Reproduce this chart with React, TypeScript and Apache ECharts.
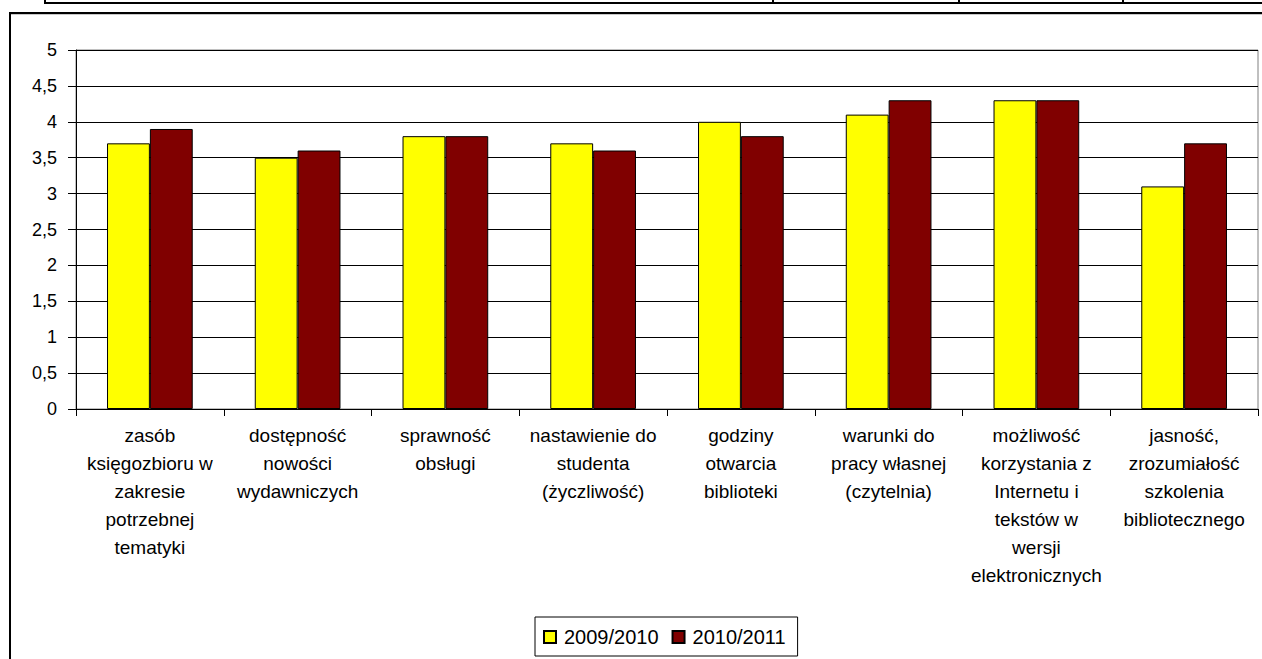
import React, { useEffect, useRef } from "react";
import * as echarts from "echarts";

const categories: string[] = [
  "zasób\nksięgozbioru w\nzakresie\npotrzebnej\ntematyki",
  "dostępność\nnowości\nwydawniczych",
  "sprawność\nobsługi",
  "nastawienie do\nstudenta\n(życzliwość)",
  "godziny\notwarcia\nbiblioteki",
  "warunki do\npracy własnej\n(czytelnia)",
  "możliwość\nkorzystania z\nInternetu i\ntekstów w\nwersji\nelektronicznych",
  "jasność,\nzrozumiałość\nszkolenia\nbibliotecznego",
];

const seriesNames: string[] = ["2009/2010", "2010/2011"];
const values2009: number[] = [3.7, 3.5, 3.8, 3.7, 4.0, 4.1, 4.3, 3.1];
const values2010: number[] = [3.9, 3.6, 3.8, 3.6, 3.8, 4.3, 4.3, 3.7];

const FONT = "'Liberation Sans', Arial, sans-serif";

export default function App() {
  const ref = useRef<HTMLDivElement>(null);

  useEffect(() => {
    if (!ref.current) return;
    const chart = echarts.init(ref.current, undefined, { renderer: "svg" });
    const lineStyle = { stroke: "#000", lineWidth: 2 };
    chart.setOption({
      animation: false,
      backgroundColor: "#fff",
      textStyle: { fontFamily: FONT, color: "#000" },
      grid: {
        left: 76,
        right: 4,
        top: 50,
        bottom: 250,
        show: true,
        borderColor: "#808080",
        borderWidth: 1,
        containLabel: false,
      },
      legend: {
        data: seriesNames,
        left: 535,
        top: 617,
        orient: "horizontal",
        padding: [10, 12, 9, 8],
        itemGap: 13,
        itemWidth: 12,
        itemHeight: 12,
        icon: "rect",
        borderColor: "#000",
        borderWidth: 1,
        textStyle: { fontFamily: FONT, fontSize: 20, color: "#000", padding: [0, 0, 0, 3] },
      },
      xAxis: {
        type: "category",
        data: categories,
        axisLine: { show: true, lineStyle: { color: "#000", width: 1 } },
        axisTick: { show: true, length: 7, alignWithLabel: false, lineStyle: { color: "#000" } },
        axisLabel: {
          interval: 0,
          margin: 12,
          fontFamily: FONT,
          fontSize: 19,
          lineHeight: 28,
          color: "#000",
          align: "center",
        },
        splitLine: { show: false },
      },
      yAxis: {
        type: "value",
        min: 0,
        max: 5,
        interval: 0.5,
        axisLine: { show: true, lineStyle: { color: "#000", width: 1 } },
        axisTick: { show: true, length: 8, lineStyle: { color: "#000" } },
        axisLabel: {
          margin: 19,
          fontFamily: FONT,
          fontSize: 18,
          color: "#000",
          formatter: (v: number) => String(v).replace(".", ","),
        },
        splitLine: { show: true, lineStyle: { color: "#000", width: 1 } },
      },
      series: [
        {
          name: seriesNames[0],
          type: "bar",
          data: values2009,
          barGap: "0%",
          barCategoryGap: "42%",
          itemStyle: { color: "#FFFF00", borderColor: "#000", borderWidth: 1 },
        },
        {
          name: seriesNames[1],
          type: "bar",
          data: values2010,
          barGap: "0%",
          barCategoryGap: "42%",
          itemStyle: { color: "#800000", borderColor: "#000", borderWidth: 1 },
        },
      ],
      graphic: [
        { type: "line", shape: { x1: 44, y1: 3, x2: 1262, y2: 3 }, style: lineStyle },
        { type: "line", shape: { x1: 45, y1: 0, x2: 45, y2: 3 }, style: lineStyle },
        { type: "line", shape: { x1: 773, y1: 0, x2: 773, y2: 3 }, style: lineStyle },
        { type: "line", shape: { x1: 959, y1: 0, x2: 959, y2: 3 }, style: lineStyle },
        { type: "line", shape: { x1: 1123, y1: 0, x2: 1123, y2: 3 }, style: lineStyle },
        { type: "line", shape: { x1: 9, y1: 13, x2: 1262, y2: 13 }, style: lineStyle },
        { type: "line", shape: { x1: 10, y1: 12, x2: 10, y2: 659 }, style: lineStyle },
        { type: "line", shape: { x1: 11, y1: 14.5, x2: 1262, y2: 14.5 }, style: { stroke: "#c8c8c8", lineWidth: 1 } },
      ],
    });
    return () => chart.dispose();
  }, []);

  return (
    <div
      ref={ref}
      style={{ position: "absolute", left: 0, top: 0, width: 1262, height: 659 }}
    />
  );
}
